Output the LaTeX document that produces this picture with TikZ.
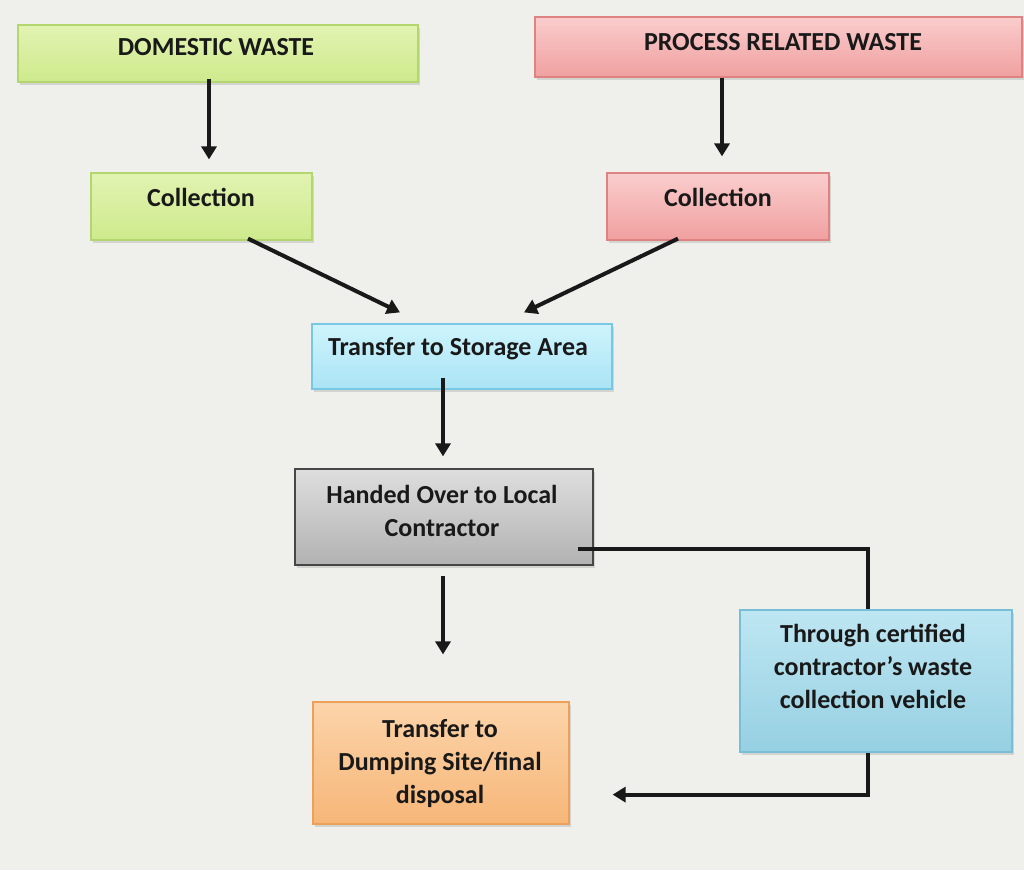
\documentclass[tikz,border=0pt]{standalone}
\usepackage{fontspec}
\setmainfont{Carlito}
\usetikzlibrary{arrows.meta,shadows}
\definecolor{bgc}{RGB}{239,239,236}
\definecolor{grnT}{RGB}{226,243,178}
\definecolor{grnB}{RGB}{206,234,140}
\definecolor{grnD}{RGB}{180,214,110}
\definecolor{pnkT}{RGB}{250,205,205}
\definecolor{pnkB}{RGB}{240,160,160}
\definecolor{pnkD}{RGB}{222,130,130}
\definecolor{cyaT}{RGB}{206,244,252}
\definecolor{cyaB}{RGB}{170,228,245}
\definecolor{cyaD}{RGB}{120,200,228}
\definecolor{gryT}{RGB}{222,222,222}
\definecolor{gryB}{RGB}{178,178,178}
\definecolor{gryD}{RGB}{70,70,70}
\definecolor{bluT}{RGB}{190,230,242}
\definecolor{bluB}{RGB}{150,208,226}
\definecolor{bluD}{RGB}{120,190,214}
\definecolor{orgT}{RGB}{252,212,170}
\definecolor{orgB}{RGB}{246,182,120}
\definecolor{orgD}{RGB}{236,160,90}
\tikzset{
  x=1pt,y=1pt,
  box/.style={rectangle,draw,line width=1.2pt,inner sep=0pt,
    drop shadow={shadow xshift=2pt,shadow yshift=-3pt,opacity=0.25}},
  greenbox/.style={box,draw=grnD,top color=grnT,bottom color=grnB},
  pinkbox/.style={box,draw=pnkD,top color=pnkT,bottom color=pnkB},
  cyanbox/.style={box,draw=cyaD,top color=cyaT,bottom color=cyaB},
  graybox/.style={box,draw=gryD,top color=gryT,bottom color=gryB},
  bluebox/.style={box,draw=bluD,top color=bluT,bottom color=bluB},
  orangebox/.style={box,draw=orgD,top color=orgT,bottom color=orgB},
  txt/.style={font=\fontsize{26}{33}\selectfont\bfseries,text=black!90,align=center,inner sep=0pt},
  arr/.style={line width=4pt,draw=black!90,line join=miter,-{Triangle[width=15pt,length=13pt]}},
  ln/.style={line width=4pt,draw=black!90,line join=miter}
}
\begin{document}
\begin{tikzpicture}
\fill[bgc] (0,0) rectangle (1024,-870);
\useasboundingbox (0,0) rectangle (1024,-870);

% boxes
\node[greenbox,minimum width=400pt,minimum height=57pt] (dom) at (218,-53.5) {};
\node[pinkbox,minimum width=487pt,minimum height=60pt] (proc) at (778.5,-47) {};
\node[greenbox,minimum width=221pt,minimum height=67pt] (c1) at (201.5,-206.5) {};
\node[pinkbox,minimum width=222pt,minimum height=67pt] (c2) at (718,-206.5) {};
\node[cyanbox,minimum width=300pt,minimum height=65pt] (sto) at (462,-356.5) {};
\node[graybox,minimum width=298pt,minimum height=96pt] (hand) at (444,-517) {};
\node[bluebox,minimum width=272pt,minimum height=142pt] (thr) at (876,-681) {};
\node[orangebox,minimum width=256pt,minimum height=122pt] (dump) at (441,-763) {};

% texts
\node[txt] (tdom) at (216,-47) {DOMESTIC WASTE};
\node[txt] (tproc) at (783,-42) {PROCESS RELATED WASTE};
\node[txt] (tc1) at (201,-197) {Collection};
\node[txt] (tc2) at (718,-197) {Collection};
\node[txt] (tsto) at (458,-349) {Transfer to Storage Area};
\node[txt] (thand) at (442,-511) {Handed Over to Local\\Contractor};
\node[txt] (tthr) at (873,-666) {Through certified\\contractor’s waste\\collection vehicle};
\node[txt] (tdump) at (440,-763) {Transfer to\\Dumping Site/final\\disposal};

% connectors
\draw[arr] ([xshift=-9pt,yshift=4pt]dom.south) -- ([xshift=7.5pt,yshift=13pt]c1.north);
\draw[arr] ([xshift=-56.5pt,yshift=0pt]proc.south) -- ([xshift=4pt,yshift=16pt]c2.north);
\draw[arr] ([xshift=46.5pt,yshift=2pt]c1.south) -- ([xshift=-62pt,yshift=11pt]sto.north);
\draw[arr] ([xshift=-40pt,yshift=2pt]c2.south) -- ([xshift=62pt,yshift=11pt]sto.north);
\draw[arr] ([xshift=-19pt,yshift=12pt]sto.south) -- ([xshift=-1pt,yshift=12pt]hand.north);
\draw[arr] ([xshift=-1pt,yshift=-10pt]hand.south) -- ([xshift=2pt,yshift=47pt]dump.north);
\coordinate (h1) at ([xshift=-16pt,yshift=-32pt]hand.east);
\coordinate (t1) at ([xshift=-8pt]thr.north);
\coordinate (k1) at (t1 |- h1);
\draw[ln] (h1) -- (k1) -- (t1);
\coordinate (t2) at ([xshift=-8pt]thr.south);
\coordinate (k2) at ([yshift=-42pt]t2);
\coordinate (d1) at ([xshift=43pt]k2 -| dump.east);
\draw[arr] (t2) -- (k2) -- (d1);
\end{tikzpicture}
\end{document}
